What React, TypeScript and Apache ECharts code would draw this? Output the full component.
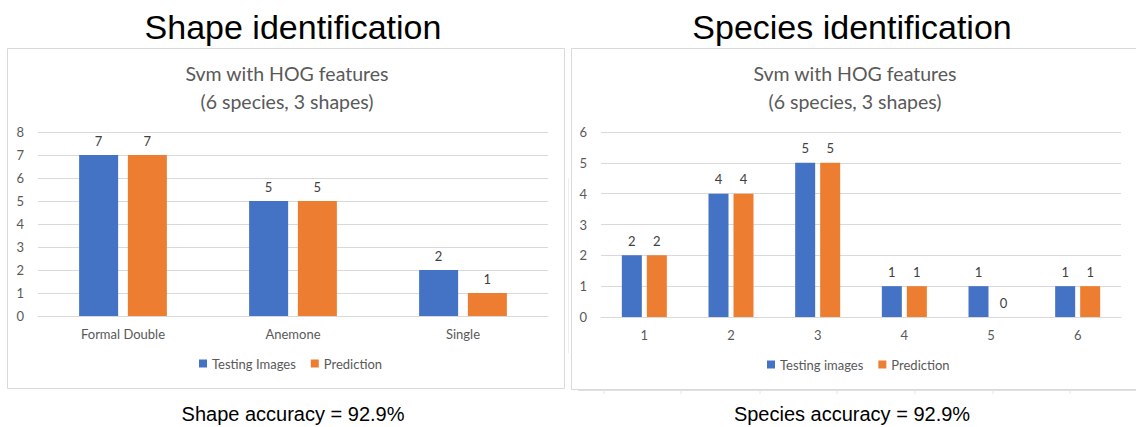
import React, { useEffect, useRef } from "react";
import * as echarts from "echarts";

// Shape identification (left panel)
const shapeCategories = ["Formal Double", "Anemone", "Single"];
const shapeTesting = [7, 5, 2];
const shapePrediction = [7, 5, 1];

// Species identification (right panel)
const speciesCategories = ["1", "2", "3", "4", "5", "6"];
const speciesTesting = [2, 4, 5, 1, 1, 1];
const speciesPrediction = [2, 4, 5, 1, 0, 1];

const BLUE = "#4472C4";
const ORANGE = "#ED7D31";
const GRAY = "#595959";
const GRID = "#d9d9d9";
const CHART_FONT = "Lato, 'Open Sans', sans-serif";
const HEAD_FONT = "'Liberation Sans', Arial, sans-serif";

export default function App() {
  const ref = useRef<HTMLDivElement>(null);

  useEffect(() => {
    if (!ref.current) return;
    const chart = echarts.init(ref.current, null, { renderer: "svg" });

    const yAxisBase = (gridIndex: number, max: number) => ({
      type: "value" as const,
      gridIndex,
      min: 0,
      max,
      interval: 1,
      axisLine: { show: false },
      axisTick: { show: false },
      axisLabel: { color: GRAY, fontSize: 13, fontFamily: CHART_FONT, margin: 14 },
      splitLine: { lineStyle: { color: GRID, width: 1 } },
    });

    const xAxisBase = (gridIndex: number, data: string[]) => ({
      type: "category" as const,
      gridIndex,
      data,
      axisLine: { show: true, lineStyle: { color: GRID, width: 1 } },
      axisTick: { show: false },
      axisLabel: { color: GRAY, fontSize: 13, fontFamily: CHART_FONT, margin: 11 },
    });

    const labelStyle = {
      show: true,
      position: "top" as const,
      distance: 8,
      color: "#404040",
      fontSize: 13,
      fontFamily: CHART_FONT,
    };

    const legendText = { color: GRAY, fontSize: 13, fontFamily: CHART_FONT };

    const titleText = (x: number) => [
      {
        type: "text",
        x,
        y: 73,
        style: {
          text: "Svm with HOG features",
          fill: GRAY,
          font: `19.5px ${CHART_FONT}`,
          textAlign: "center",
          textVerticalAlign: "middle",
        },
      },
      {
        type: "text",
        x,
        y: 101,
        style: {
          text: "(6 species, 3 shapes)",
          fill: GRAY,
          font: `19.5px ${CHART_FONT}`,
          textAlign: "center",
          textVerticalAlign: "middle",
        },
      },
    ];

    const bottomTicks = [604, 681, 760, 837, 915, 993, 1070].map((x) => ({
      type: "line",
      shape: { x1: x, y1: 390, x2: x, y2: 394 },
      style: { stroke: "#e6e6e6", lineWidth: 1 },
    }));

    chart.setOption({
      animation: false,
      backgroundColor: "#ffffff",
      grid: [
        { left: 38, top: 132, width: 510, height: 184 },
        { left: 601, top: 132, width: 520, height: 185 },
      ],
      xAxis: [xAxisBase(0, shapeCategories), xAxisBase(1, speciesCategories)],
      yAxis: [yAxisBase(0, 8), yAxisBase(1, 6)],
      legend: [
        {
          data: ["Testing Images", "Prediction "],
          left: 199,
          top: 357,
          padding: 0,
          itemWidth: 8,
          itemHeight: 8,
          itemGap: 15,
          icon: "rect",
          textStyle: legendText,
        },
        {
          data: ["Testing images", "Prediction"],
          left: 767,
          top: 358,
          padding: 0,
          itemWidth: 8,
          itemHeight: 8,
          itemGap: 15,
          icon: "rect",
          textStyle: legendText,
        },
      ],
      series: [
        {
          name: "Testing Images",
          type: "bar",
          xAxisIndex: 0,
          yAxisIndex: 0,
          data: shapeTesting,
          barWidth: 39,
          barGap: "25%",
          itemStyle: { color: BLUE },
          label: labelStyle,
        },
        {
          name: "Prediction ",
          type: "bar",
          xAxisIndex: 0,
          yAxisIndex: 0,
          data: shapePrediction,
          barWidth: 39,
          barGap: "25%",
          itemStyle: { color: ORANGE },
          label: labelStyle,
        },
        {
          name: "Testing images",
          type: "bar",
          xAxisIndex: 1,
          yAxisIndex: 1,
          data: speciesTesting,
          barWidth: 20,
          barGap: "25%",
          itemStyle: { color: BLUE },
          label: labelStyle,
        },
        {
          name: "Prediction",
          type: "bar",
          xAxisIndex: 1,
          yAxisIndex: 1,
          data: speciesPrediction,
          barWidth: 20,
          barGap: "25%",
          itemStyle: { color: ORANGE },
          label: labelStyle,
        },
      ],
      graphic: [
        // panel frames
        {
          type: "rect",
          shape: { x: 7.5, y: 48.5, width: 557, height: 340 },
          style: { fill: "none", stroke: "#d9d9d9", lineWidth: 1 },
          z: -1,
        },
        {
          type: "rect",
          shape: { x: 571.5, y: 48.5, width: 570, height: 341 },
          style: { fill: "none", stroke: "#d9d9d9", lineWidth: 1 },
          z: -1,
        },
        {
          type: "line",
          shape: { x1: 578, y1: 390.5, x2: 1136, y2: 390.5 },
          style: { stroke: "#e0e0e0", lineWidth: 1 },
        },
        {
          type: "line",
          shape: { x1: 568.5, y1: 178, x2: 568.5, y2: 353 },
          style: { stroke: "#eeeeee", lineWidth: 1 },
        },
        ...bottomTicks,
        // headings
        {
          type: "text",
          x: 293,
          y: 27,
          style: {
            text: "Shape identification",
            fill: "#000000",
            font: `34px ${HEAD_FONT}`,
            textAlign: "center",
            textVerticalAlign: "middle",
          },
        },
        {
          type: "text",
          x: 852,
          y: 27,
          style: {
            text: "Species identification",
            fill: "#000000",
            font: `34px ${HEAD_FONT}`,
            textAlign: "center",
            textVerticalAlign: "middle",
          },
        },
        ...titleText(287),
        ...titleText(855),
        // footers
        {
          type: "text",
          x: 293,
          y: 414,
          style: {
            text: "Shape accuracy = 92.9%",
            fill: "#000000",
            font: `20px ${HEAD_FONT}`,
            textAlign: "center",
            textVerticalAlign: "middle",
          },
        },
        {
          type: "text",
          x: 852,
          y: 414,
          style: {
            text: "Species accuracy = 92.9%",
            fill: "#000000",
            font: `20px ${HEAD_FONT}`,
            textAlign: "center",
            textVerticalAlign: "middle",
          },
        },
      ],
    });

    return () => chart.dispose();
  }, []);

  return (
    <div
      ref={ref}
      style={{ position: "absolute", left: 0, top: 0, width: 1136, height: 427, background: "#fff" }}
    />
  );
}
